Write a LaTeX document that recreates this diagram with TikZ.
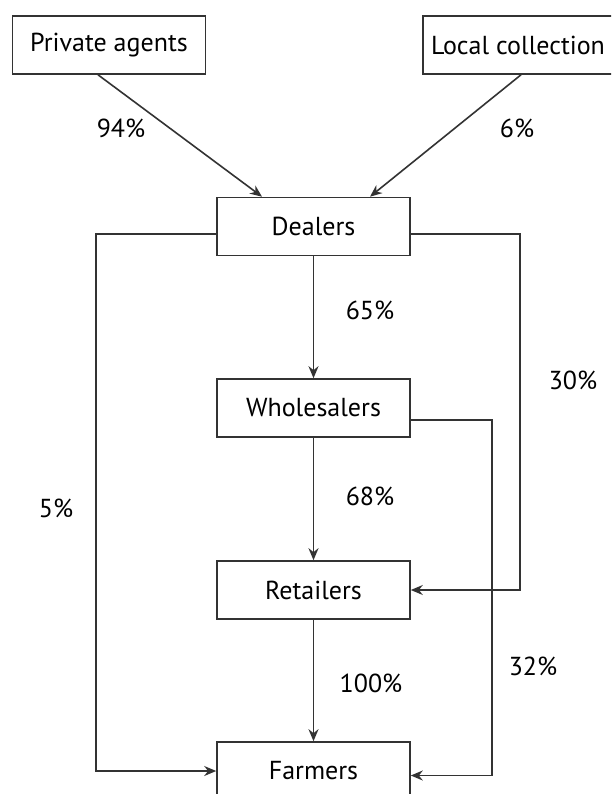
\documentclass[tikz,border=0pt]{standalone}
\usepackage{fontspec}
\setmainfont{PT Sans}
\usetikzlibrary{arrows.meta,calc}
\begin{document}
\begin{tikzpicture}[x=1pt,y=-1pt,
  box/.style={draw=black!80,line width=1.6pt,minimum width=193pt,minimum height=58pt,inner sep=0pt,font=\fontsize{26}{31}\selectfont,text=black},
  lbl/.style={font=\fontsize{26}{31}\selectfont,text=black,inner sep=0pt},
  arr/.style={draw=black!80,line width=1.6pt,-{Stealth[length=12pt,width=10pt]}},
  ln/.style={draw=black!80,line width=1.6pt}]
\clip (0,0) rectangle (611,794);
\useasboundingbox (0,0) rectangle (611,794);
\fill[white] (0,0) rectangle (611,794);
\node[box] (pa) at (109,45) {Private agents};
\node[box,minimum width=190pt] (lc) at (518,45) {Local collection};
\node[box] (de) at (313.5,226.5) {Dealers};
\node[box] (wh) at (313.5,408) {Wholesalers};
\node[box] (re) at (313.5,590) {Retailers};
\node[box] (fa) at (313.5,771) {Farmers};
\draw[arr] ([xshift=-11pt]pa.south) -- ([xshift=-51.5pt]de.north);
\draw[arr] ([xshift=3pt]lc.south) -- ([xshift=56.5pt]de.north);
\draw[arr] (de) -- (wh);
\draw[arr] (wh) -- (re);
\draw[arr] (re) -- (fa);
\coordinate (dl) at ([yshift=-7.5pt]de.west);
\coordinate (dr) at ([yshift=-7.5pt]de.east);
\coordinate (wr) at ([yshift=-12pt]wh.east);
\draw[arr] (dl) -- ++(-120,0) |- (fa.west);
\draw[arr] (dr) -- ++(109,0) |- (re.east);
\draw[arr] (wr) -- ++(81,0) |- ([yshift=-4.5pt]fa.east);
\node[lbl] (l94) at (121,128) {94\%};
\node[lbl] (l6) at (517,128) {6\%};
\node[lbl] (l65) at (370,310) {65\%};
\node[lbl] (l30) at (573,380) {30\%};
\node[lbl] (l68) at (370,496) {68\%};
\node[lbl] (l5) at (56,508) {5\%};
\node[lbl] (l32) at (533,666) {32\%};
\node[lbl] (l100) at (371,683) {100\%};
\end{tikzpicture}
\end{document}
